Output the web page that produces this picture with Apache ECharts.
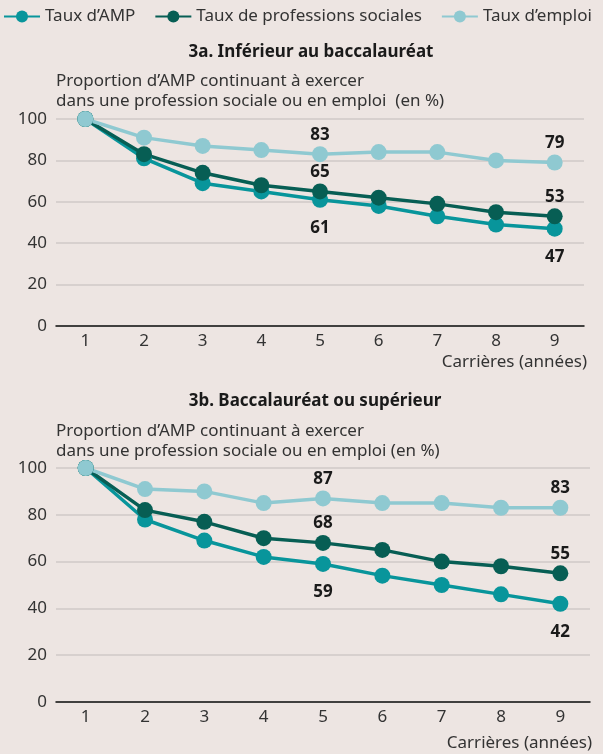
<!DOCTYPE html>
<html>
<head>
<meta charset="utf-8">
<script src="https://cdn.jsdelivr.net/npm/echarts@6/dist/echarts.min.js"></script>
<style>
  html, body { margin: 0; padding: 0; background: #ede5e2; }
  #main { width: 603px; height: 754px; }
</style>
</head>
<body>
<div id="main"></div>
<script>
var annees = ['1', '2', '3', '4', '5', '6', '7', '8', '9'];
var yTicks = [0, 20, 40, 60, 80, 100];

// 3a. Inférieur au baccalauréat
var amp1 = [100, 81, 69, 65, 61, 58, 53, 49, 47];
var prof1 = [100, 83, 74, 68, 65, 62, 59, 55, 53];
var emploi1 = [100, 91, 87, 85, 83, 84, 84, 80, 79];

// 3b. Baccalauréat ou supérieur
var amp2 = [100, 78, 69, 62, 59, 54, 50, 46, 42];
var prof2 = [100, 82, 77, 70, 68, 65, 60, 58, 55];
var emploi2 = [100, 91, 90, 85, 87, 85, 85, 83, 83];

var labelIdx = [4, 8];
var font = '"Noto Sans", sans-serif';
var fs = 17;

var couleurs = {
  amp: '#08959b',
  prof: '#075e54',
  emploi: '#8fc9d1'
};

function serie(name, data, color, idx, pos) {
  return {
    name: name,
    type: 'line',
    xAxisIndex: idx,
    yAxisIndex: idx,
    data: data,
    symbol: 'circle',
    symbolSize: 16,
    lineStyle: { width: 3.5, color: color },
    itemStyle: { color: color },
    label: {
      show: true,
      position: pos,
      distance: pos === 'top' ? 3 : 12,
      fontFamily: font,
      fontSize: fs,
      fontWeight: 'bold',
      color: '#1a1a1a',
      formatter: function (p) {
        return labelIdx.indexOf(p.dataIndex) >= 0 ? p.value : '';
      }
    },
    emphasis: { disabled: true },
    animation: false
  };
}

function axeX(idx) {
  return {
    type: 'category',
    gridIndex: idx,
    data: annees,
    boundaryGap: true,
    axisLine: { lineStyle: { color: '#111', width: 1.5 } },
    axisTick: { show: false },
    axisLabel: { fontFamily: font, fontSize: fs, color: '#333', margin: 7 }
  };
}

function axeY(idx) {
  return {
    type: 'value',
    gridIndex: idx,
    min: yTicks[0],
    max: yTicks[yTicks.length - 1],
    interval: 20,
    axisLine: { show: false },
    axisTick: { show: false },
    axisLabel: { fontFamily: font, fontSize: fs, color: '#333', margin: 9 },
    splitLine: { lineStyle: { color: '#cfc9c7', width: 1.5 } }
  };
}

var txt = { fontFamily: font, fontSize: fs, fill: '#333' };

var option = {
  backgroundColor: '#ede5e2',
  textStyle: { fontFamily: font },
  legend: {
    left: 3,
    top: 8,
    width: 600,
    padding: 0,
    itemWidth: 36,
    itemHeight: 15,
    itemGap: 19,
    textStyle: { fontFamily: font, fontSize: fs, color: '#333' },
    data: ['Taux d’AMP', 'Taux de professions sociales', 'Taux d’emploi']
  },
  grid: [
    { left: 56, right: 19, top: 119, height: 207 },
    { left: 56, right: 13, top: 468, height: 234 }
  ],
  xAxis: [axeX(0), axeX(1)],
  yAxis: [axeY(0), axeY(1)],
  graphic: [
    { type: 'text', x: 311, y: 52, style: Object.assign({}, txt, { text: '3a. Inférieur au baccalauréat', fontWeight: 'bold', fill: '#1a1a1a', align: 'center', verticalAlign: 'middle' }) },
    { type: 'text', x: 56, y: 71, style: Object.assign({}, txt, { text: 'Proportion d’AMP continuant à exercer\ndans une profession sociale ou en emploi  (en %)', lineHeight: 20 }) },
    { type: 'text', x: 587, y: 362, style: Object.assign({}, txt, { text: 'Carrières (années)', align: 'right', verticalAlign: 'middle' }) },
    { type: 'text', x: 315, y: 401, style: Object.assign({}, txt, { text: '3b. Baccalauréat ou supérieur', fontWeight: 'bold', fill: '#1a1a1a', align: 'center', verticalAlign: 'middle' }) },
    { type: 'text', x: 56, y: 421, style: Object.assign({}, txt, { text: 'Proportion d’AMP continuant à exercer\ndans une profession sociale ou en emploi (en %)', lineHeight: 20 }) },
    { type: 'text', x: 592, y: 743, style: Object.assign({}, txt, { text: 'Carrières (années)', align: 'right', verticalAlign: 'middle' }) }
  ],
  series: [
    serie('Taux d’AMP', amp1, couleurs.amp, 0, 'bottom'),
    serie('Taux de professions sociales', prof1, couleurs.prof, 0, 'top'),
    serie('Taux d’emploi', emploi1, couleurs.emploi, 0, 'top'),
    serie('Taux d’AMP', amp2, couleurs.amp, 1, 'bottom'),
    serie('Taux de professions sociales', prof2, couleurs.prof, 1, 'top'),
    serie('Taux d’emploi', emploi2, couleurs.emploi, 1, 'top')
  ]
};

echarts.init(document.getElementById('main')).setOption(option);
</script>
</body>
</html>
